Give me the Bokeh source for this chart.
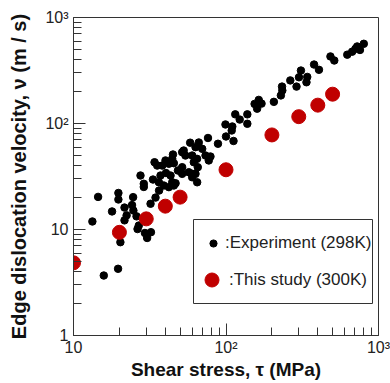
from bokeh.plotting import figure
from bokeh.models import FixedTicker, Legend, LegendItem, BoxAnnotation, Range1d
from bokeh.embed import file_html
from bokeh.resources import INLINE

# Experiment (298K): shear stress (MPa) and edge dislocation velocity (m/s)
tau_exp = [13.3, 14.5, 15.8, 17.9, 19.6, 19.7, 19.7, 20.3, 21.6, 21.6, 22.3, 24.2, 24.6, 24.7,
           25.9, 26.3, 26.8, 28.9, 29.4, 30.4, 32.2, 32.0, 34.5, 27.5, 28.9, 33.2, 36.3, 39.1,
           36.4, 42.2, 44.4, 45.5, 46.7, 34.0, 35.4, 38.2, 40.1, 42.2, 44.9, 44.4, 45.5, 37.2,
           40.4, 43.3, 48.4, 51.6, 51.6, 57.0, 60.3, 63.1, 60.0, 64.7, 65.3, 51.6, 52.8, 54.2,
           60.0, 64.6, 61.5, 58.2, 63.1, 66.3, 69.8, 76.2, 73.4, 79.1, 77.1, 88.6, 99.2, 110,
           109, 100, 112, 115, 123, 138, 138, 154, 164, 160, 171, 206, 229, 234, 233, 264, 290,
           301, 310, 341, 337, 378, 407, 484, 513, 624, 672, 706, 725, 756, 801]
v_exp = [11.9, 20.3, 3.68, 14.8, 4.26, 22.1, 19.2, 7.59, 16.1, 12.2, 13.6, 17.0, 20.2, 15.1,
         13.3, 10.1, 10.9, 25.2, 9.27, 8.32, 9.43, 17.5, 20.0, 32.3, 27.0, 29.6, 27.9, 26.0,
         23.3, 25.1, 27.9, 26.0, 27.3, 43.1, 40.1, 40.1, 44.8, 41.7, 51.0, 46.4, 42.2, 32.3,
         34.1, 32.3, 36.0, 33.5, 38.7, 34.7, 33.5, 33.5, 31.1, 27.9, 38.7, 53.6, 55.6, 49.9,
         49.9, 46.4, 43.1, 65.9, 59.8, 66.2, 57.7, 73.0, 49.9, 48.8, 44.8, 64.4, 97.9, 93.7,
         85.9, 75.4, 68.4, 122, 109, 122, 99.4, 153, 167, 138, 154, 160, 184, 205, 223, 255, 223,
         273, 316, 275, 245, 360, 321, 429, 393, 446, 476, 507, 533, 494, 565]

# This study (300K)
tau_sim = [10, 20, 30, 40, 50, 100, 200, 300, 400, 500]
v_sim = [4.85, 9.4, 12.6, 16.6, 20.2, 36.6, 78, 116, 149, 189]

x_major = [10, 100, 1000]
y_major = [1, 10, 100, 1000]
x_labels = {10: "10", 100: "10\u00b2", 1000: "10\u00b3"}
y_labels = {1: "1", 10: "10", 100: "10\u00b2", 1000: "10\u00b3"}

FONT = "Liberation Sans"

p = figure(width=390, height=383, x_axis_type="log", y_axis_type="log",
           x_range=Range1d(10, 1000), y_range=Range1d(1, 1000),
           output_backend="svg", toolbar_location=None,
           min_border_left=73, min_border_right=12, min_border_top=17, min_border_bottom=48)
p.background_fill_color = "white"
p.border_fill_color = "white"
p.grid.visible = False
p.outline_line_color = "#333333"
p.outline_line_width = 1

def minors(majors):
    out = []
    for m in majors[:-1]:
        out += [m * k for k in range(2, 10)]
    return out

p.xaxis.ticker = FixedTicker(ticks=x_major, minor_ticks=minors(x_major))
p.yaxis.ticker = FixedTicker(ticks=y_major, minor_ticks=minors(y_major))
p.xaxis.major_label_overrides = x_labels
p.yaxis.major_label_overrides = y_labels

for ax in (p.xaxis, p.yaxis):
    ax.major_tick_in = 12
    ax.major_tick_out = 0
    ax.minor_tick_in = 8
    ax.minor_tick_out = 0
    ax.axis_line_color = "#333333"
    ax.major_tick_line_color = "#333333"
    ax.minor_tick_line_color = "#333333"
    ax.major_label_text_font = FONT
    ax.major_label_text_font_size = "16px"
    ax.major_label_text_color = "#222222"
    ax.axis_label_text_font = FONT
    ax.axis_label_text_font_style = "bold"
    ax.axis_label_text_color = "#111111"

p.xaxis.axis_label_text_font_size = "19px"
p.yaxis.axis_label_text_font_size = "20px"
p.xaxis.axis_label = "Shear stress, \u03c4 (MPa)"
p.yaxis.axis_label = "Edge dislocation velocity, \u03bd (m / s)"
p.xaxis.major_label_standoff = 3
p.yaxis.major_label_standoff = 5
p.xaxis.axis_label_standoff = 0
p.yaxis.axis_label_standoff = 12

r_exp = p.scatter(tau_exp, v_exp, size=7.5, color="black")
r_sim = p.scatter(tau_sim, v_sim, size=14, color="#C00000")

box = BoxAnnotation(left=120, right=299, bottom=32, top=116,
                    left_units="screen", right_units="screen",
                    bottom_units="screen", top_units="screen",
                    fill_alpha=0, line_color="#333333", line_width=1, line_alpha=1)
p.add_layout(box)

leg_a = Legend(items=[LegendItem(label=":Experiment (298K)", renderers=[r_exp])],
               location=(131, 82), glyph_width=18, glyph_height=18, label_height=18,
               padding=0, margin=0, label_standoff=3, border_line_color=None,
               background_fill_alpha=0, label_text_font=FONT,
               label_text_font_size="17px", label_text_color="#222222")
leg_b = Legend(items=[LegendItem(label=":This study (300K)", renderers=[r_sim])],
               location=(121, 38), glyph_width=35, glyph_height=35, label_height=35,
               padding=0, margin=0, label_standoff=-4, border_line_color=None,
               background_fill_alpha=0, label_text_font=FONT,
               label_text_font_size="17px", label_text_color="#222222")
p.add_layout(leg_a, "center")
p.add_layout(leg_b, "center")

open("out.html", "w").write(file_html(p, INLINE))
